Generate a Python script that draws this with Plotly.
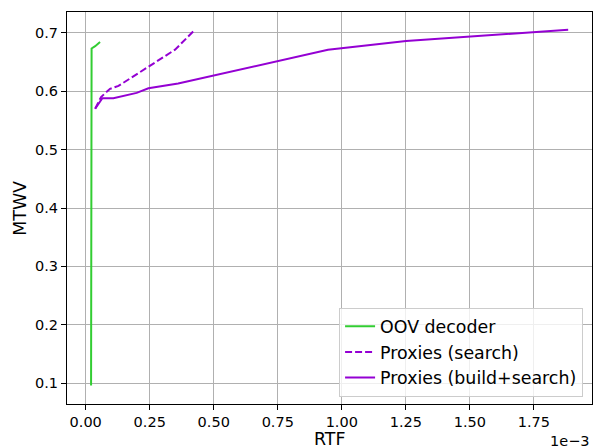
import plotly.graph_objects as go

# RTF values are in units of 1e-3
oov_rtf = [0.021, 0.022, 0.023, 0.037, 0.056]
oov_mtwv = [0.096, 0.40, 0.673, 0.677, 0.684]

search_rtf = [0.037, 0.060, 0.095, 0.128, 0.349, 0.426]
search_mtwv = [0.570, 0.590, 0.604, 0.609, 0.671, 0.705]

build_rtf = [0.037, 0.065, 0.108, 0.199, 0.245, 0.361, 0.946, 1.251, 1.884]
build_mtwv = [0.570, 0.588, 0.588, 0.597, 0.605, 0.613, 0.671, 0.686, 0.705]

x_ticks = [0.00, 0.25, 0.50, 0.75, 1.00, 1.25, 1.50, 1.75]
y_ticks = [0.1, 0.2, 0.3, 0.4, 0.5, 0.6, 0.7]

GREEN = "#32CD32"
PURPLE = "#9400D3"
FONT = "DejaVu Sans"

fig = go.Figure()
fig.add_trace(go.Scatter(x=oov_rtf, y=oov_mtwv, mode="lines", name="OOV decoder",
                         line=dict(color=GREEN, width=2)))
fig.add_trace(go.Scatter(x=search_rtf, y=search_mtwv, mode="lines", name="Proxies (search)",
                         line=dict(color=PURPLE, width=2, dash="7px,3px")))
fig.add_trace(go.Scatter(x=build_rtf, y=build_mtwv, mode="lines", name="Proxies (build+search)",
                         line=dict(color=PURPLE, width=2)))

axis_common = dict(
    showgrid=True, gridcolor="#b0b0b0", gridwidth=1,
    showline=True, linecolor="black", linewidth=1, mirror=True,
    ticks="outside", ticklen=5, tickcolor="black", tickwidth=1,
    zeroline=False, automargin=False,
    tickfont=dict(family=FONT, size=14.5, color="black"),
)

fig.update_layout(
    width=593, height=448,
    margin=dict(l=67, r=1, t=12, b=44, autoexpand=False),
    paper_bgcolor="white", plot_bgcolor="white",
    font=dict(family=FONT, color="black"),
    xaxis=dict(range=[-0.073, 1.977], tickvals=x_ticks, tickformat=".2f", **axis_common),
    yaxis=dict(range=[0.0645, 0.7355], tickvals=y_ticks, tickformat=".1f", **axis_common),
    legend=dict(x=0.983, y=0.019, xanchor="right", yanchor="bottom",
                bgcolor="rgba(255,255,255,0.8)", bordercolor="#cccccc", borderwidth=1,
                font=dict(family=FONT, size=17.4, color="black")),
    showlegend=True,
    annotations=[
        dict(text="1e\u22123", xref="paper", yref="paper", x=1.0, y=-0.095,
             xanchor="right", yanchor="middle", showarrow=False,
             font=dict(family=FONT, size=14.5, color="black")),
        dict(text="RTF", xref="paper", yref="paper", x=0.5, y=-0.089,
             xanchor="center", yanchor="middle", showarrow=False,
             font=dict(family=FONT, size=17.4, color="black")),
        dict(text="MTWV", xref="paper", yref="paper", x=-0.09, y=0.5, textangle=-90,
             xanchor="center", yanchor="middle", showarrow=False,
             font=dict(family=FONT, size=17.4, color="black")),
    ],
)

fig.write_html("out.html", config={"displayModeBar": False},
               post_script="document.body.style.margin='0px';document.body.style.overflow='hidden';")
